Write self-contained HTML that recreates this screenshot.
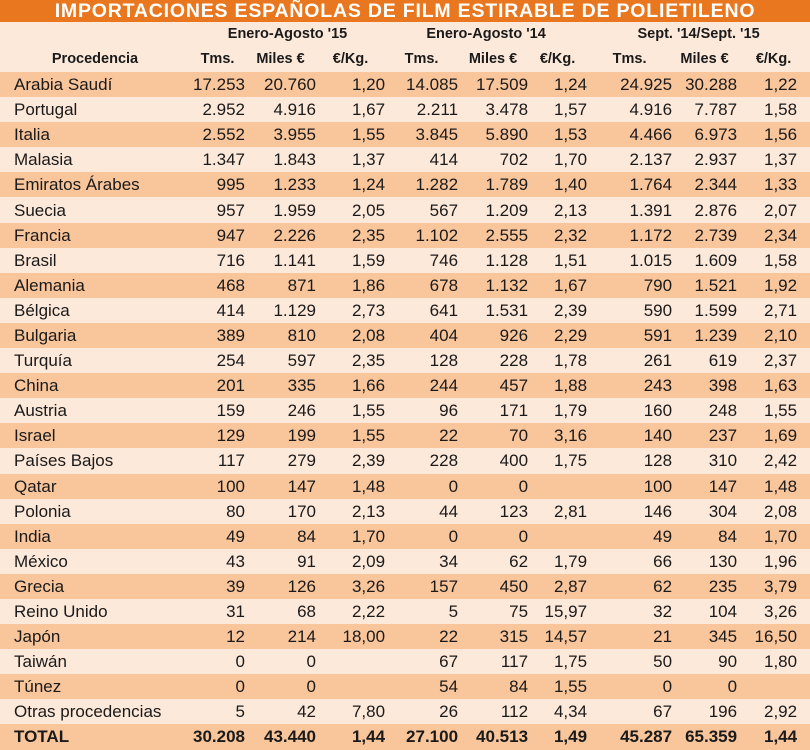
<!DOCTYPE html>
<html><head><meta charset="utf-8"><style>
body{margin:0;width:810px;height:750px;overflow:hidden;background:#fde9d9;font-family:"Liberation Sans",sans-serif;color:#1a1a1a}
.title{height:22px;background:#e8771f;color:#fff;font-weight:bold;font-size:19.5px;text-align:center;line-height:23px;letter-spacing:0.8px}
table{border-collapse:collapse;table-layout:fixed;width:810px;position:absolute;top:22px;left:0}
td{padding:0;white-space:nowrap;text-align:right;font-size:17px;height:25.1px;line-height:25px}
td.n{text-align:left;padding-left:14px}
tr.h td{font-weight:bold;font-size:14.5px;text-align:center;height:25px}
tr.o td{background:#f9c59b}
tr.t td{font-weight:bold;background:#f9c59b}
td.l{padding-right:13px}
</style></head><body>
<div class="title">IMPORTACIONES ESPAÑOLAS DE FILM ESTIRABLE DE POLIETILENO</div>
<table>
<colgroup><col style="width:190px"><col style="width:55px"><col style="width:71px"><col style="width:69px"><col style="width:73px"><col style="width:70px"><col style="width:59px"><col style="width:85px"><col style="width:65px"><col style="width:73px"></colgroup>
<tr class="h"><td></td><td colspan="3">Enero-Agosto '15</td><td colspan="3">Enero-Agosto '14</td><td colspan="3">Sept. '14/Sept. '15</td></tr>
<tr class="h"><td>Procedencia</td><td>Tms.</td><td>Miles €</td><td>€/Kg.</td><td>Tms.</td><td>Miles €</td><td>€/Kg.</td><td>Tms.</td><td>Miles €</td><td>€/Kg.</td></tr>
<tr class="o"><td class="n">Arabia Saudí</td><td>17.253</td><td>20.760</td><td>1,20</td><td>14.085</td><td>17.509</td><td>1,24</td><td>24.925</td><td>30.288</td><td class="l">1,22</td></tr>
<tr><td class="n">Portugal</td><td>2.952</td><td>4.916</td><td>1,67</td><td>2.211</td><td>3.478</td><td>1,57</td><td>4.916</td><td>7.787</td><td class="l">1,58</td></tr>
<tr class="o"><td class="n">Italia</td><td>2.552</td><td>3.955</td><td>1,55</td><td>3.845</td><td>5.890</td><td>1,53</td><td>4.466</td><td>6.973</td><td class="l">1,56</td></tr>
<tr><td class="n">Malasia</td><td>1.347</td><td>1.843</td><td>1,37</td><td>414</td><td>702</td><td>1,70</td><td>2.137</td><td>2.937</td><td class="l">1,37</td></tr>
<tr class="o"><td class="n">Emiratos Árabes</td><td>995</td><td>1.233</td><td>1,24</td><td>1.282</td><td>1.789</td><td>1,40</td><td>1.764</td><td>2.344</td><td class="l">1,33</td></tr>
<tr><td class="n">Suecia</td><td>957</td><td>1.959</td><td>2,05</td><td>567</td><td>1.209</td><td>2,13</td><td>1.391</td><td>2.876</td><td class="l">2,07</td></tr>
<tr class="o"><td class="n">Francia</td><td>947</td><td>2.226</td><td>2,35</td><td>1.102</td><td>2.555</td><td>2,32</td><td>1.172</td><td>2.739</td><td class="l">2,34</td></tr>
<tr><td class="n">Brasil</td><td>716</td><td>1.141</td><td>1,59</td><td>746</td><td>1.128</td><td>1,51</td><td>1.015</td><td>1.609</td><td class="l">1,58</td></tr>
<tr class="o"><td class="n">Alemania</td><td>468</td><td>871</td><td>1,86</td><td>678</td><td>1.132</td><td>1,67</td><td>790</td><td>1.521</td><td class="l">1,92</td></tr>
<tr><td class="n">Bélgica</td><td>414</td><td>1.129</td><td>2,73</td><td>641</td><td>1.531</td><td>2,39</td><td>590</td><td>1.599</td><td class="l">2,71</td></tr>
<tr class="o"><td class="n">Bulgaria</td><td>389</td><td>810</td><td>2,08</td><td>404</td><td>926</td><td>2,29</td><td>591</td><td>1.239</td><td class="l">2,10</td></tr>
<tr><td class="n">Turquía</td><td>254</td><td>597</td><td>2,35</td><td>128</td><td>228</td><td>1,78</td><td>261</td><td>619</td><td class="l">2,37</td></tr>
<tr class="o"><td class="n">China</td><td>201</td><td>335</td><td>1,66</td><td>244</td><td>457</td><td>1,88</td><td>243</td><td>398</td><td class="l">1,63</td></tr>
<tr><td class="n">Austria</td><td>159</td><td>246</td><td>1,55</td><td>96</td><td>171</td><td>1,79</td><td>160</td><td>248</td><td class="l">1,55</td></tr>
<tr class="o"><td class="n">Israel</td><td>129</td><td>199</td><td>1,55</td><td>22</td><td>70</td><td>3,16</td><td>140</td><td>237</td><td class="l">1,69</td></tr>
<tr><td class="n">Países Bajos</td><td>117</td><td>279</td><td>2,39</td><td>228</td><td>400</td><td>1,75</td><td>128</td><td>310</td><td class="l">2,42</td></tr>
<tr class="o"><td class="n">Qatar</td><td>100</td><td>147</td><td>1,48</td><td>0</td><td>0</td><td></td><td>100</td><td>147</td><td class="l">1,48</td></tr>
<tr><td class="n">Polonia</td><td>80</td><td>170</td><td>2,13</td><td>44</td><td>123</td><td>2,81</td><td>146</td><td>304</td><td class="l">2,08</td></tr>
<tr class="o"><td class="n">India</td><td>49</td><td>84</td><td>1,70</td><td>0</td><td>0</td><td></td><td>49</td><td>84</td><td class="l">1,70</td></tr>
<tr><td class="n">México</td><td>43</td><td>91</td><td>2,09</td><td>34</td><td>62</td><td>1,79</td><td>66</td><td>130</td><td class="l">1,96</td></tr>
<tr class="o"><td class="n">Grecia</td><td>39</td><td>126</td><td>3,26</td><td>157</td><td>450</td><td>2,87</td><td>62</td><td>235</td><td class="l">3,79</td></tr>
<tr><td class="n">Reino Unido</td><td>31</td><td>68</td><td>2,22</td><td>5</td><td>75</td><td>15,97</td><td>32</td><td>104</td><td class="l">3,26</td></tr>
<tr class="o"><td class="n">Japón</td><td>12</td><td>214</td><td>18,00</td><td>22</td><td>315</td><td>14,57</td><td>21</td><td>345</td><td class="l">16,50</td></tr>
<tr><td class="n">Taiwán</td><td>0</td><td>0</td><td></td><td>67</td><td>117</td><td>1,75</td><td>50</td><td>90</td><td class="l">1,80</td></tr>
<tr class="o"><td class="n">Túnez</td><td>0</td><td>0</td><td></td><td>54</td><td>84</td><td>1,55</td><td>0</td><td>0</td><td class="l"></td></tr>
<tr><td class="n">Otras procedencias</td><td>5</td><td>42</td><td>7,80</td><td>26</td><td>112</td><td>4,34</td><td>67</td><td>196</td><td class="l">2,92</td></tr>
<tr class="t"><td class="n">TOTAL</td><td>30.208</td><td>43.440</td><td>1,44</td><td>27.100</td><td>40.513</td><td>1,49</td><td>45.287</td><td>65.359</td><td class="l">1,44</td></tr>
</table>
</body></html>
